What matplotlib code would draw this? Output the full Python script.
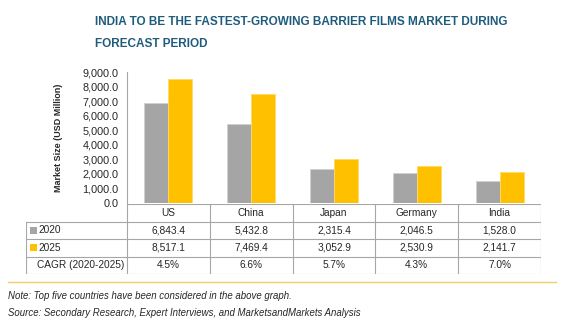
import matplotlib
matplotlib.use("Agg")
import matplotlib.pyplot as plt
from matplotlib.patches import Rectangle
from matplotlib.lines import Line2D

countries = ["US", "China", "Japan", "Germany", "India"]
years = ["2020", "2025"]
values_2020 = [6843.4, 5432.8, 2315.4, 2046.5, 1528.0]
values_2025 = [8517.1, 7469.4, 3052.9, 2530.9, 2141.7]
cagr = ["4.5%", "6.6%", "5.7%", "4.3%", "7.0%"]
yticks = [0, 1000, 2000, 3000, 4000, 5000, 6000, 7000, 8000, 9000]

GRAY = "#A5A5A5"
GOLD = "#FFC000"
LINE = "#A6A6A6"
TITLE = "#1F5C7C"
TXT = "#262626"

plt.rcParams["font.family"] = ["Liberation Sans", "DejaVu Sans"]

W, H = 565, 327
fig = plt.figure(figsize=(W / 100, H / 100), dpi=100)


def px(x0, y0, x1, y1):
    # pixel box (top-left origin) -> figure fraction rect
    return [x0 / W, 1 - y1 / H, (x1 - x0) / W, (y1 - y0) / H]


ax = fig.add_axes(px(127, 72, 541, 203))
x = list(range(len(countries)))
bw = 0.29
ax.bar([i - bw / 2 for i in x], values_2020, bw, color=GRAY, edgecolor="#D0D0D0", linewidth=0.6)
ax.bar([i + bw / 2 for i in x], values_2025, bw, color=GOLD, edgecolor="#FFD966", linewidth=0.6)
ax.set_xlim(-0.5, len(countries) - 0.5)
ax.set_ylim(0, 9000)
ax.set_yticks(yticks)
ax.set_yticklabels([f"{v:,.1f}" for v in yticks], fontsize=7.8, color=TXT)
ax.tick_params(axis="y", length=0, pad=6)
ax.set_xticks([])
for s in ["top", "right", "bottom"]:
    ax.spines[s].set_visible(False)
ax.spines["left"].set_color(LINE)
ax.spines["left"].set_linewidth(0.8)
ax.set_ylabel("Market Size (USD Million)", fontsize=6.5, fontweight="bold", color=TXT)
ax.yaxis.set_label_coords(-0.155, 0.5)

# data table under the bars
tab = fig.add_axes(px(26, 204, 541, 274))
lab_w = 101 / 82.8
tab.set_xlim(-0.5 - lab_w, len(countries) - 0.5)
tab.set_ylim(0, 4)
tab.axis("off")
left = -0.5 - lab_w
right = len(countries) - 0.5
lk = dict(color=LINE, linewidth=0.8)
tab.add_line(Line2D([-0.5, right], [4, 4], **lk))
for yy in [3, 2, 1, 0]:
    tab.add_line(Line2D([left, right], [yy, yy], **lk))
for b in range(len(countries) + 1):
    tab.add_line(Line2D([b - 0.5, b - 0.5], [0, 4], **lk))
tab.add_line(Line2D([left, left], [0, 3], **lk))

fs = 7.3
for i, c in enumerate(countries):
    tab.text(i, 3.5, c, ha="center", va="center", fontsize=fs, color=TXT)
    tab.text(i, 2.5, f"{values_2020[i]:,.1f}", ha="center", va="center", fontsize=fs, color=TXT)
    tab.text(i, 1.5, f"{values_2025[i]:,.1f}", ha="center", va="center", fontsize=fs, color=TXT)
    tab.text(i, 0.5, cagr[i], ha="center", va="center", fontsize=fs, color=TXT)

sq = 6.5 / 82.8
for row, (yr, col) in zip([2, 1], zip(years, [GRAY, GOLD])):
    tab.add_patch(Rectangle((left + 0.05, row + 0.3), sq, 0.4, color=col, lw=0))
    tab.text(left + 0.05 + sq + 0.02, row + 0.5, yr, ha="left", va="center", fontsize=fs, color=TXT)
tab.text(left + 0.5 * lab_w + 0.05, 0.5, "CAGR (2020-2025)", ha="center", va="center", fontsize=fs, color=TXT)

fig.text(95 / W, 1 - 22 / H, "INDIA TO BE THE FASTEST-GROWING BARRIER FILMS MARKET DURING",
         fontsize=8.5, fontweight="bold", color=TITLE, va="center")
fig.text(95 / W, 1 - 44 / H, "FORECAST PERIOD",
         fontsize=8.5, fontweight="bold", color=TITLE, va="center")

fig.add_artist(Line2D([8 / W, 556 / W], [1 - 282 / H, 1 - 282 / H], color="#F2CC6B", linewidth=1.0))
fig.text(8 / W, 1 - 296 / H, "Note: Top five countries have been considered in the above graph.",
         fontsize=6.9, style="italic", color=TXT, va="center")
fig.text(8 / W, 1 - 313 / H, "Source: Secondary Research, Expert Interviews, and MarketsandMarkets Analysis",
         fontsize=6.9, style="italic", color=TXT, va="center")

fig.savefig("out.png", dpi=100)
